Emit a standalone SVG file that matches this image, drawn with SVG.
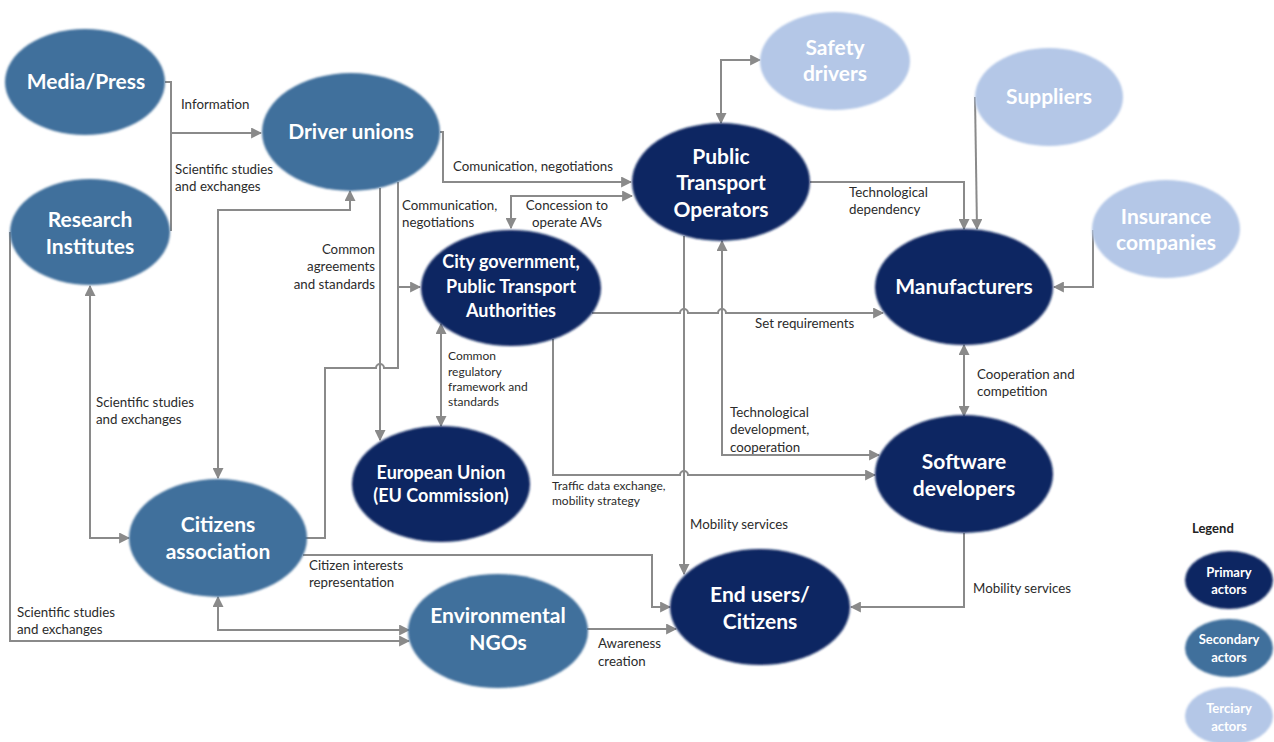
<svg xmlns="http://www.w3.org/2000/svg" width="1274" height="742" viewBox="0 0 1274 742">
<style>
.p{fill:#0c2562}
.s{fill:#41709c}
.t{fill:#b4c7e7}
.nt{font-family:Lato,"Open Sans",sans-serif;font-weight:bold;font-size:21px;fill:#ffffff;text-anchor:middle}
.nm{font-size:18px}
.lg{font-family:Lato,"Open Sans",sans-serif;font-weight:bold;font-size:13px;fill:#ffffff;text-anchor:middle}
.el{font-family:Lato,"Open Sans",sans-serif;font-size:13.3px;fill:#2b2b2b}
.sm{font-size:12px}
.c{fill:none;stroke:#8a8a8a;stroke-width:2}
</style>
<defs>
<marker id="ah" viewBox="0 0 10 10" refX="9" refY="5" markerWidth="11" markerHeight="11" markerUnits="userSpaceOnUse" orient="auto-start-reverse"><path d="M0,0 L10,5 L0,10 z" fill="#8a8a8a"/></marker>
<filter id="soft" x="-10%" y="-10%" width="120%" height="120%"><feGaussianBlur stdDeviation="1.2"/></filter>
</defs>
<rect width="1274" height="742" fill="#ffffff"/>

<g id="connectors">
<path class="c" d="M165,82 H171 V133 H261" marker-end="url(#ah)"/>
<path class="c" d="M170,230 H171 V133"/>
<path class="c" d="M440,132 H443 V182 H631" marker-end="url(#ah)"/>
<path class="c" d="M511,228 V196 H632" marker-start="url(#ah)" marker-end="url(#ah)"/>
<path class="c" d="M398,182 V368 H384 a4,4 0 0 0 -8,0 H325 V538 H305"/>
<path class="c" d="M398,287 H420" marker-end="url(#ah)"/>
<path class="c" d="M380,188 V440" marker-end="url(#ah)"/>
<path class="c" d="M218,478 V210 H350 V191" marker-start="url(#ah)" marker-end="url(#ah)"/>
<path class="c" d="M90,286 V538 H129" marker-start="url(#ah)" marker-end="url(#ah)"/>
<path class="c" d="M10,232 V641 H409" marker-end="url(#ah)"/>
<path class="c" d="M218,597 V630 H409" marker-start="url(#ah)" marker-end="url(#ah)"/>
<path class="c" d="M303,555 H652 V607 H670" marker-end="url(#ah)"/>
<path class="c" d="M587,629 H676" marker-end="url(#ah)"/>
<path class="c" d="M441,324 V426" marker-start="url(#ah)" marker-end="url(#ah)"/>
<path class="c" d="M592,313 H680 a4,4 0 0 1 8,0 H718 a4,4 0 0 1 8,0 H883" marker-end="url(#ah)"/>
<path class="c" d="M553,339 V475 H680 a4,4 0 0 1 8,0 H875" marker-end="url(#ah)"/>
<path class="c" d="M684,236 V574" marker-end="url(#ah)"/>
<path class="c" d="M722,241 V455 H879" marker-start="url(#ah)" marker-end="url(#ah)"/>
<path class="c" d="M810,182 H964 V229" marker-end="url(#ah)"/>
<path class="c" d="M975,97 L977,229" marker-end="url(#ah)"/>
<path class="c" d="M1093,230 V287 H1054" marker-end="url(#ah)"/>
<path class="c" d="M721,123 V60 H760" marker-start="url(#ah)" marker-end="url(#ah)"/>
<path class="c" d="M964,345 V416" marker-start="url(#ah)" marker-end="url(#ah)"/>
<path class="c" d="M964,533 V607 H851" marker-end="url(#ah)"/>
</g>

<g id="edge-labels">
<text class="el" x="181" y="109">Information</text>
<text class="el" x="175" y="174">Scientific studies</text>
<text class="el" x="175" y="191">and exchanges</text>
<text class="el" x="453" y="171">Comunication, negotiations</text>
<text class="el" x="402" y="210">Communication,</text>
<text class="el" x="402" y="227">negotiations</text>
<text class="el" x="567" y="210" text-anchor="middle">Concession to</text>
<text class="el" x="567" y="227" text-anchor="middle">operate AVs</text>
<text class="el" x="375" y="254" text-anchor="end">Common</text>
<text class="el" x="375" y="271" text-anchor="end">agreements</text>
<text class="el" x="375" y="289" text-anchor="end">and standards</text>
<text class="el" x="849" y="197">Technological</text>
<text class="el" x="849" y="214">dependency</text>
<text class="el" x="755" y="328">Set requirements</text>
<text class="el sm" x="448" y="360">Common</text>
<text class="el sm" x="448" y="376">regulatory</text>
<text class="el sm" x="448" y="391">framework and</text>
<text class="el sm" x="448" y="406">standards</text>
<text class="el" x="977" y="379">Cooperation and</text>
<text class="el" x="977" y="396">competition</text>
<text class="el" x="730" y="417">Technological</text>
<text class="el" x="730" y="434">development,</text>
<text class="el" x="730" y="452">cooperation</text>
<text class="el" x="96" y="407">Scientific studies</text>
<text class="el" x="96" y="424">and exchanges</text>
<text class="el sm" x="552" y="490">Traffic data exchange,</text>
<text class="el sm" x="552" y="505">mobility strategy</text>
<text class="el" x="690" y="529">Mobility services</text>
<text class="el" x="309" y="570">Citizen interests</text>
<text class="el" x="309" y="587">representation</text>
<text class="el" x="17" y="617">Scientific studies</text>
<text class="el" x="17" y="634">and exchanges</text>
<text class="el" x="598" y="648">Awareness</text>
<text class="el" x="598" y="666">creation</text>
<text class="el" x="973" y="593">Mobility services</text>
</g>

<g id="media-press"><ellipse class="s" cx="85" cy="82" rx="80" ry="53" filter="url(#soft)"/><text class="nt" x="86" y="89">Media/Press</text></g>
<g id="driver-unions"><ellipse class="s" cx="351" cy="132" rx="89" ry="59" filter="url(#soft)"/><text class="nt" x="351" y="139">Driver unions</text></g>
<g id="research-institutes"><ellipse class="s" cx="90" cy="232" rx="80" ry="53" filter="url(#soft)"/><text class="nt" x="90" y="227">Research</text><text class="nt" x="90" y="254">Institutes</text></g>
<g id="citizens-association"><ellipse class="s" cx="218" cy="538" rx="89" ry="59" filter="url(#soft)"/><text class="nt" x="218" y="532">Citizens</text><text class="nt" x="218" y="559">association</text></g>
<g id="environmental-ngos"><ellipse class="s" cx="498" cy="631" rx="90" ry="57" filter="url(#soft)"/><text class="nt" x="498" y="623">Environmental</text><text class="nt" x="498" y="650">NGOs</text></g>
<g id="european-union"><ellipse class="p" cx="441" cy="484" rx="89" ry="58" filter="url(#soft)"/><text class="nt nm" x="441" y="479">European Union</text><text class="nt nm" x="441" y="502">(EU Commission)</text></g>
<g id="city-government"><ellipse class="p" cx="511" cy="288" rx="90" ry="58" filter="url(#soft)"/><text class="nt nm" x="511" y="268">City government,</text><text class="nt nm" x="511" y="293">Public Transport</text><text class="nt nm" x="511" y="317">Authorities</text></g>
<g id="public-transport-operators"><ellipse class="p" cx="721" cy="182" rx="89" ry="59" filter="url(#soft)"/><text class="nt" x="721" y="164">Public</text><text class="nt" x="721" y="190">Transport</text><text class="nt" x="721" y="217">Operators</text></g>
<g id="safety-drivers"><ellipse class="t" cx="835" cy="61" rx="75" ry="49" filter="url(#soft)"/><text class="nt" x="835" y="55">Safety</text><text class="nt" x="835" y="81">drivers</text></g>
<g id="suppliers"><ellipse class="t" cx="1049" cy="97" rx="74" ry="49" filter="url(#soft)"/><text class="nt" x="1049" y="104">Suppliers</text></g>
<g id="insurance-companies"><ellipse class="t" cx="1166" cy="229" rx="74" ry="49" filter="url(#soft)"/><text class="nt" x="1166" y="224">Insurance</text><text class="nt" x="1166" y="250">companies</text></g>
<g id="manufacturers"><ellipse class="p" cx="964" cy="287" rx="89" ry="58" filter="url(#soft)"/><text class="nt" x="964" y="294">Manufacturers</text></g>
<g id="software-developers"><ellipse class="p" cx="964" cy="474" rx="89" ry="59" filter="url(#soft)"/><text class="nt" x="964" y="469">Software</text><text class="nt" x="964" y="496">developers</text></g>
<g id="end-users"><ellipse class="p" cx="760" cy="607" rx="90" ry="58" filter="url(#soft)"/><text class="nt" x="760" y="602">End users/</text><text class="nt" x="760" y="629">Citizens</text></g>

<g id="legend">
<text x="1192" y="533" font-family="Lato,'Open Sans',sans-serif" font-weight="bold" font-size="13" fill="#222222">Legend</text>
<ellipse class="p" cx="1229" cy="580" rx="44" ry="29" filter="url(#soft)"/><text class="lg" x="1229" y="577">Primary</text><text class="lg" x="1229" y="594">actors</text>
<ellipse class="s" cx="1229" cy="648" rx="44" ry="29" filter="url(#soft)"/><text class="lg" x="1229" y="644">Secondary</text><text class="lg" x="1229" y="662">actors</text>
<ellipse class="t" cx="1229" cy="716" rx="44" ry="29" filter="url(#soft)"/><text class="lg" x="1229" y="713">Terciary</text><text class="lg" x="1229" y="731">actors</text>
</g>
</svg>
